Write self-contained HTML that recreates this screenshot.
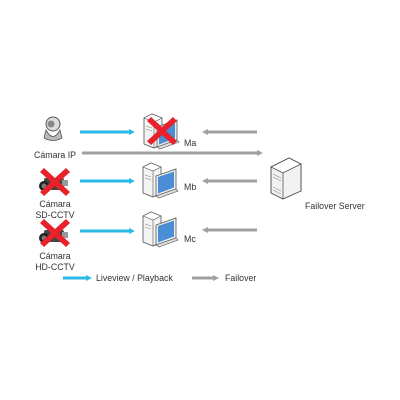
<!DOCTYPE html>
<html><head><meta charset="utf-8"><style>
html,body{margin:0;padding:0;background:#fff;width:400px;height:400px;overflow:hidden}
svg{display:block}
text{font-family:"Liberation Sans",sans-serif;font-size:8.8px;fill:#333}
</style></head><body>
<svg width="400" height="400" viewBox="0 0 400 400" xmlns="http://www.w3.org/2000/svg">
<defs>
<g id="pc">
  <polygon points="0,4 8,0 18,4 18,30 10,34 0,30" fill="#f4f4f4" stroke="#555" stroke-width="0.8"/>
  <polygon points="0,4 8,0 18,4 10,8" fill="#fff" stroke="#555" stroke-width="0.6"/>
  <line x1="10" y1="8" x2="10" y2="34" stroke="#555" stroke-width="0.6"/>
  <line x1="2" y1="12" x2="8" y2="14" stroke="#888" stroke-width="0.6"/>
  <line x1="2" y1="15" x2="8" y2="17" stroke="#888" stroke-width="0.6"/>
  <polygon points="13,13 33,6 33,26 13,33" fill="#eee" stroke="#555" stroke-width="0.8"/>
  <polygon points="15,14 31,8.5 31,24.5 15,30.5" fill="#4a8fd6"/>
  <polygon points="13,33 33,26 35,28 16,35" fill="#ddd" stroke="#555" stroke-width="0.6"/>
</g>
<g id="x">
  <path d="M0,4 L4,0 L15,10 L26,0 L30,4 L19,14 L30,24 L26,28 L15,18 L4,28 L0,24 L11,14 Z" fill="#e8212b"/>
</g>
<g id="cam">
  <rect x="6" y="6" width="20" height="12" rx="2" fill="#444"/>
  <circle cx="6" cy="14" r="5" fill="#222"/>
  <circle cx="6" cy="14" r="2.5" fill="#777"/>
  <rect x="24" y="8" width="6" height="6" fill="#999"/>
</g>
</defs>

<ellipse cx="53" cy="124" rx="7" ry="7" fill="#ddd" stroke="#555"/>
<circle cx="51" cy="124" r="3.5" fill="#888"/>
<path d="M46,130 Q53,143 60,130 L62,138 Q53,143 44,138 Z" fill="#bbb" stroke="#555" stroke-width="0.8"/>
<text x="34" y="158">Cámara IP</text>

<use href="#cam" x="38" y="172"/>
<use href="#x" x="40" y="168"/>
<text x="55" y="207" text-anchor="middle">Cámara</text>
<text x="55" y="218" text-anchor="middle">SD-CCTV</text>

<use href="#cam" x="38" y="224"/>
<use href="#x" x="40" y="219"/>
<text x="55" y="259" text-anchor="middle">Cámara</text>
<text x="55" y="270" text-anchor="middle">HD-CCTV</text>

<g stroke="#2bb9e8" stroke-width="3" fill="#2bb9e8">
<line x1="80" y1="132" x2="130" y2="132"/>
<line x1="80" y1="181" x2="130" y2="181"/>
<line x1="80" y1="231" x2="130" y2="231"/>
<line x1="63" y1="278" x2="87" y2="278"/>
</g>
<g fill="#2bb9e8">
<polygon points="129,129 135,132 129,135"/>
<polygon points="129,178 135,181 129,184"/>
<polygon points="129,228 135,231 129,234"/>
<polygon points="86,275 92,278 86,281"/>
</g>

<g stroke="#a0a0a0" stroke-width="3">
<line x1="207" y1="132" x2="257" y2="132"/>
<line x1="207" y1="181" x2="257" y2="181"/>
<line x1="207" y1="230" x2="257" y2="230"/>
<line x1="82" y1="153" x2="258" y2="153"/>
<line x1="192" y1="278" x2="214" y2="278"/>
</g>
<g fill="#a0a0a0">
<polygon points="208,129 202,132 208,135"/>
<polygon points="208,178 202,181 208,184"/>
<polygon points="208,227 202,230 208,233"/>
<polygon points="257,150 263,153 257,156"/>
<polygon points="213,275 219,278 213,281"/>
</g>

<use href="#pc" x="144" y="114"/>
<use href="#x" x="147" y="117"/>
<use href="#pc" x="143" y="163"/>
<use href="#pc" x="143" y="212"/>
<text x="184" y="146">Ma</text>
<text x="184" y="190">Mb</text>
<text x="184" y="242">Mc</text>

<polygon points="271,167 289,158 301,164 301,191 283,199 271,193" fill="#f2f2f2" stroke="#444" stroke-width="0.9"/>
<polygon points="271,167 289,158 301,164 283,173" fill="#fff" stroke="#444" stroke-width="0.7"/>
<line x1="283" y1="173" x2="283" y2="199" stroke="#444" stroke-width="0.7"/>
<g stroke="#888" stroke-width="0.6">
<line x1="273" y1="174" x2="281" y2="178"/>
<line x1="273" y1="177" x2="281" y2="181"/>
<line x1="273" y1="187" x2="281" y2="191"/>
<line x1="273" y1="190" x2="281" y2="194"/>
</g>
<text x="305" y="209">Failover Server</text>

<text x="96" y="281">Liveview / Playback</text>
<text x="225" y="281">Failover</text>
</svg>
</body></html>
